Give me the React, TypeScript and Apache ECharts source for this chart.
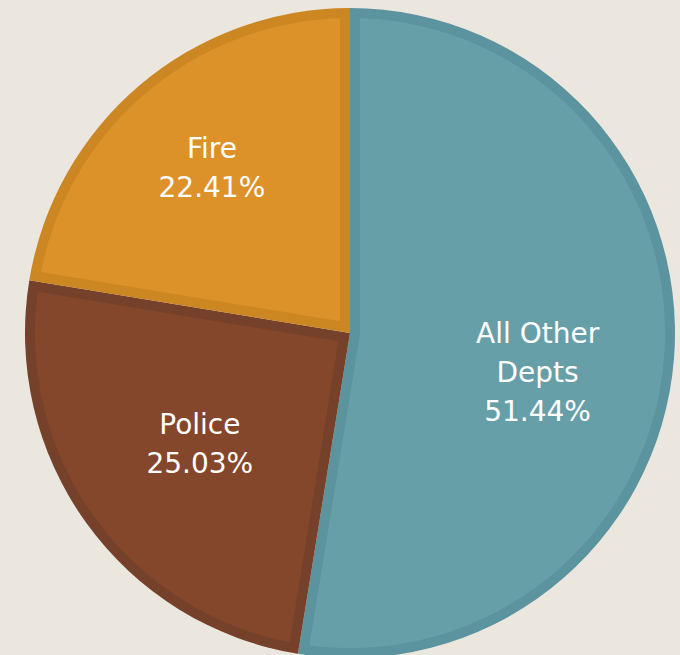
import React, { useEffect, useRef } from "react";
import * as echarts from "echarts";

const CATEGORIES = ["All Other Depts", "Police", "Fire"];
const LABEL_TEXT = ["All Other\nDepts", "Police", "Fire"];
// share of the circle each slice covers, as drawn
const SLICE_VALUES = [52.56, 25.03, 22.41];
// percentages printed in the labels
const LABEL_PERCENTS = [51.44, 25.03, 22.41];

const LIGHT = ["#679fa9", "#84472b", "#dc9229"];
const DARK = ["#5b939e", "#75412a", "#cc8622"];
const LABEL_RADIUS = [0.59, 0.575, 0.662];
const LABEL_ANGLE_SHIFT = [7.35, -0.8, 0.4];

const CX = 350;
const CY = 333;
const R = 325;
const INSET = 10;

const rad = (d: number) => (d * Math.PI) / 180;
const toXY = (theta: number, r: number) => [CX + r * Math.sin(rad(theta)), CY - r * Math.cos(rad(theta))];

export default function App() {
  const ref = useRef<HTMLDivElement>(null);
  useEffect(() => {
    if (!ref.current) return;
    const chart = echarts.init(ref.current, null, { renderer: "svg" });
    const total = SLICE_VALUES.reduce((a, b) => a + b, 0);
    const starts: number[] = [];
    let acc = 0;
    SLICE_VALUES.forEach((v) => {
      starts.push((acc / total) * 360);
      acc += v;
    });

    const renderItem = (params: any) => {
      const i = params.dataIndex;
      const start = starts[i];
      const sweep = (SLICE_VALUES[i] / total) * 360;
      const end = start + sweep;
      const Rp = R - INSET;
      const dphi = (Math.asin(INSET / Rp) * 180) / Math.PI;
      const pts: number[][] = [];
      if (sweep < 180) {
        pts.push(toXY(start + sweep / 2, INSET / Math.sin(rad(sweep / 2))));
      } else {
        pts.push(toXY(start + 90, INSET));
      }
      for (let a = start + dphi; a < end - dphi; a += 0.5) pts.push(toXY(a, Rp));
      pts.push(toXY(end - dphi, Rp));
      if (sweep >= 180) pts.push(toXY(end - 90, INSET));
      const mid = start + sweep / 2 + LABEL_ANGLE_SHIFT[i];
      const [lx, ly] = toXY(mid, R * LABEL_RADIUS[i]);
      return {
        type: "group",
        children: [
          { type: "polygon", shape: { points: pts }, style: { fill: LIGHT[i] } },
          {
            type: "text",
            x: lx,
            y: ly,
            style: {
              text: LABEL_TEXT[i] + "\n" + LABEL_PERCENTS[i].toFixed(2) + "%",
              fill: "#ffffff",
              font: '28px "DejaVu Sans"',
              lineHeight: 39,
              align: "center",
              verticalAlign: "middle",
            },
          },
        ],
      };
    };

    chart.setOption({
      animation: false,
      backgroundColor: "#ebe6de",
      series: [
        {
          type: "pie",
          center: [CX, CY],
          radius: R,
          silent: true,
          z: 1,
          label: { show: false },
          labelLine: { show: false },
          data: CATEGORIES.map((name, i) => ({ name, value: SLICE_VALUES[i], itemStyle: { color: DARK[i] } })),
        },
        {
          type: "custom",
          coordinateSystem: "none",
          silent: true,
          z: 2,
          renderItem,
          data: SLICE_VALUES,
        },
      ],
    });
    return () => chart.dispose();
  }, []);
  return <div ref={ref} style={{ position: "absolute", left: 0, top: 0, width: 680, height: 655 }} />;
}
